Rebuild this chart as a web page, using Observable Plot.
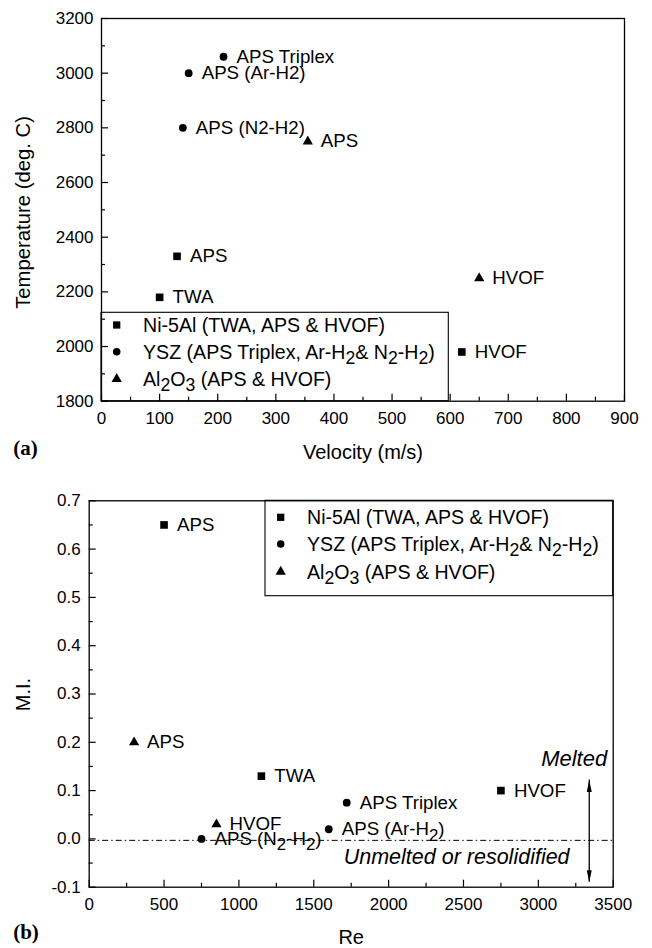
<!DOCTYPE html>
<html><head><meta charset="utf-8">
<script src="https://cdn.jsdelivr.net/npm/d3@7"></script>
<script src="https://cdn.jsdelivr.net/npm/@observablehq/plot@0.6"></script>
<style>
html,body{margin:0;padding:0;background:#fff;}
#chart{width:652px;}
#chart svg{display:block;}
</style></head><body><div id="chart"></div>
<script>
// ---------- Panel (a): Temperature vs Velocity ----------
const aNiVel = [100, 130, 620];
const aNiTemp = [2180, 2330, 1980];
const aNiLabel = ["TWA", "APS", "HVOF"];
const aYszVel = [210, 150, 140];
const aYszTemp = [3060, 3000, 2800];
const aYszLabel = ["APS Triplex", "APS (Ar-H2)", "APS (N2-H2)"];
const aAlVel = [355, 650];
const aAlTemp = [2750, 2250];
const aAlLabel = ["APS", "HVOF"];
const aXTicks = [0, 100, 200, 300, 400, 500, 600, 700, 800, 900];
const aXMinor = [50, 150, 250, 350, 450, 550, 650, 750, 850];
const aYTicks = [1800, 2000, 2200, 2400, 2600, 2800, 3000, 3200];
const aYMinor = [1900, 2100, 2300, 2500, 2700, 2900, 3100];

// ---------- Panel (b): M.I. vs Re ----------
const bNiRe = [1150, 500, 2750];
const bNiMI = [0.13, 0.65, 0.10];
const bNiLabel = ["TWA", "APS", "HVOF"];
const bYszRe = [1720, 1600, 750];
const bYszMI = [0.075, 0.02, 0.0];
const bYszLabel = ["APS Triplex", "APS (Ar-H_2)", "APS (N_2-H_2)"];
const bAlRe = [300, 850];
const bAlMI = [0.2, 0.03];
const bAlLabel = ["APS", "HVOF"];
const bXTicks = [0, 500, 1000, 1500, 2000, 2500, 3000, 3500];
const bXMinor = [250, 750, 1250, 1750, 2250, 2750, 3250];
const bYTicks = [-0.1, 0, 0.1, 0.2, 0.3, 0.4, 0.5, 0.6, 0.7];
const bYMinor = [-0.05, 0.05, 0.15, 0.25, 0.35, 0.45, 0.55, 0.65];
const bThreshold = [-0.003];
const bArrowRe = [3340];
const bArrowTop = [0.122];
const bArrowBottom = [-0.09];
const bMelted = [{x: 3460, y: 0.166, text: "Melted"}];
const bUnmelted = [{x: 1700, y: -0.038, text: "Unmelted or resolidified"}];

const legendLabels = ["Ni-5Al (TWA, APS & HVOF)", "YSZ (APS Triplex, Ar-H_2& N_2-H_2)", "Al_2O_3 (APS & HVOF)"];

const FONT = "Liberation Sans, Arial, Helvetica, sans-serif";
const SVGNS = "http://www.w3.org/2000/svg";

function rows(xs, ys, labels) { return xs.map((x, i) => ({x, y: ys[i], label: labels[i]})); }

function subify(el, fs, shift) {
  const s = el.textContent;
  if (!s.includes("_")) return;
  const parts = s.split(/(_\d)/);
  el.textContent = "";
  let shifted = false;
  for (const p of parts) {
    if (!p) continue;
    const t = document.createElementNS(SVGNS, "tspan");
    if (p.startsWith("_")) {
      t.textContent = p.slice(1);
      t.setAttribute("font-size", fs * 0.9);
      if (!shifted) { t.setAttribute("dy", shift); shifted = true; }
    } else {
      t.textContent = p;
      if (shifted) { t.setAttribute("dy", -shift); shifted = false; }
    }
    el.appendChild(t);
  }
}

const upHead = {draw(ctx, size) { const r = Math.sqrt(size / Math.PI); ctx.moveTo(0, 0); ctx.lineTo(-r * 0.5, r * 2.4); ctx.lineTo(r * 0.5, r * 2.4); ctx.closePath(); }};
const downHead = {draw(ctx, size) { const r = Math.sqrt(size / Math.PI); ctx.moveTo(0, 0); ctx.lineTo(-r * 0.5, -r * 2.4); ctx.lineTo(r * 0.5, -r * 2.4); ctx.closePath(); }};

function seriesMarks(ni, ysz, al, labelSize) {
  const all = [...ni, ...ysz, ...al];
  return [
    Plot.dot(ni, {x: "x", y: "y", symbol: "square", r: 4.3, fill: "black", stroke: "none"}),
    Plot.dot(ysz, {x: "x", y: "y", symbol: "circle", r: 3.9, fill: "black", stroke: "none"}),
    Plot.dot(al, {x: "x", y: "y", symbol: "triangle", r: 3.8, fill: "black", stroke: "none"}),
    Plot.text(all, {x: "x", y: "y", text: "label", dx: 13, textAnchor: "start", lineAnchor: "middle", fontSize: labelSize, fill: "black"})
  ];
}

function tickMarks(xMaj, xMin, yMaj, yMin, innerW, innerH) {
  return [
    Plot.ruleX(xMaj, {x: d => d, insetTop: innerH - 7, strokeWidth: 1.2}),
    Plot.ruleX(xMin, {x: d => d, insetTop: innerH - 4, strokeWidth: 1.2}),
    Plot.ruleY(yMaj, {y: d => d, insetRight: innerW - 7, strokeWidth: 1.2}),
    Plot.ruleY(yMin, {y: d => d, insetRight: innerW - 4, strokeWidth: 1.2})
  ];
}

function addLegend(svg, box, rowOffsets, fs) {
  const g = d3.select(svg).append("g").attr("class", "legend").attr("text-anchor", "start");
  g.append("rect").attr("x", box.x).attr("y", box.y).attr("width", box.w).attr("height", box.h)
    .attr("fill", "none").attr("stroke", "black").attr("stroke-width", 1.1);
  const syms = [[d3.symbolSquare, 4.1], [d3.symbolCircle, 3.8], [d3.symbolTriangle, 3.8]];
  rowOffsets.forEach((dy, i) => {
    const [type, r] = syms[i];
    g.append("path").attr("d", d3.symbol(type, Math.PI * r * r)())
      .attr("transform", `translate(${box.x + 15.7},${box.y + dy})`).attr("fill", "black");
    const t = g.append("text").attr("x", box.x + 42).attr("y", box.y + dy).attr("dy", "0.35em")
      .attr("text-anchor", "start")
      .attr("font-size", fs).attr("font-family", FONT).attr("fill", "black").text(legendLabels[i]);
    subify(t.node(), fs, 5);
  });
}

const chart = document.getElementById("chart");

// ----- Panel (a)
{
  const W = 652, H = 470, mL = 101, mT = 18, mR = 28, mB = 69.3;
  const iW = W - mL - mR, iH = H - mT - mB;
  const svg = Plot.plot({
    width: W, height: H, marginLeft: mL, marginTop: mT, marginRight: mR, marginBottom: mB,
    style: {fontFamily: FONT, fontSize: "17px", color: "black", background: "white", overflow: "visible"},
    x: {domain: [0, 900]},
    y: {domain: [1800, 3200]},
    marks: [
      ...tickMarks(aXTicks, aXMinor, aYTicks, aYMinor, iW, iH),
      Plot.frame({strokeWidth: 1.3}),
      Plot.axisX({ticks: aXTicks, tickSize: 0, tickPadding: 11, tickFormat: d => String(d), fontSize: 17, label: null}),
      Plot.axisY({ticks: aYTicks, tickSize: 0, tickPadding: 8, tickFormat: d => String(d), fontSize: 17, label: null}),
      ...seriesMarks(rows(aNiVel, aNiTemp, aNiLabel), rows(aYszVel, aYszTemp, aYszLabel), rows(aAlVel, aAlTemp, aAlLabel), 18.7),
      Plot.text(["Velocity (m/s)"], {frameAnchor: "bottom", lineAnchor: "middle", textAnchor: "middle", dy: 51.5, fontSize: 20, fill: "black"}),
      Plot.text(["Temperature (deg. C)"], {frameAnchor: "left", lineAnchor: "middle", textAnchor: "middle", rotate: -90, dx: -78, dy: 2.6, fontSize: 20.3, fill: "black"}),
      Plot.text(["(a)"], {frameAnchor: "bottom-left", lineAnchor: "middle", textAnchor: "start", dx: -88.3, dy: 47.3, fontSize: 21, fontWeight: "bold", fontFamily: "Liberation Serif, Times New Roman, serif", fill: "black"})
    ]
  });
  addLegend(svg, {x: mL, y: 312.3, w: 347.3, h: H - mB - 312.3}, [12.7, 39.4, 66.7], 19.6);
  chart.appendChild(svg);
}

// ----- Panel (b)
{
  const W = 652, H = 478, mL = 88.7, mT = 30.3, mR = 39.3, mB = 61.3;
  const iW = W - mL - mR, iH = H - mT - mB;
  const svg = Plot.plot({
    width: W, height: H, marginLeft: mL, marginTop: mT, marginRight: mR, marginBottom: mB,
    style: {fontFamily: FONT, fontSize: "17px", color: "black", background: "white", overflow: "visible"},
    x: {domain: [0, 3500]},
    y: {domain: [-0.1, 0.7]},
    marks: [
      ...tickMarks(bXTicks, bXMinor, bYTicks, bYMinor, iW, iH),
      Plot.ruleY(bThreshold, {y: d => d, strokeWidth: 1, strokeDasharray: "6,3,1.5,3"}),
      Plot.ruleX(bArrowRe, {x: d => d, y1: bArrowTop[0], y2: bArrowBottom[0], strokeWidth: 1.3}),
      Plot.dot(bArrowRe, {x: d => d, y: bArrowTop[0], symbol: upHead, r: 5, fill: "black", stroke: "none"}),
      Plot.dot(bArrowRe, {x: d => d, y: bArrowBottom[0], symbol: downHead, r: 5, fill: "black", stroke: "none"}),
      Plot.frame({strokeWidth: 1.3}),
      Plot.axisX({ticks: bXTicks, tickSize: 0, tickPadding: 11, tickFormat: d => String(d), fontSize: 17, label: null}),
      Plot.axisY({ticks: bYTicks, tickSize: 0, tickPadding: 8.5, tickFormat: d => d.toFixed(1), fontSize: 17, label: null}),
      ...seriesMarks(rows(bNiRe, bNiMI, bNiLabel), rows(bYszRe, bYszMI, bYszLabel), rows(bAlRe, bAlMI, bAlLabel), 18.7),
      Plot.text(bMelted, {x: "x", y: "y", text: "text", textAnchor: "end", lineAnchor: "middle", fontSize: 22, fontStyle: "italic", fill: "black"}),
      Plot.text(bUnmelted, {x: "x", y: "y", text: "text", textAnchor: "start", lineAnchor: "middle", fontSize: 21.5, fontStyle: "italic", fill: "black"}),
      Plot.text(["Re"], {frameAnchor: "bottom", lineAnchor: "middle", textAnchor: "middle", dy: 50, fontSize: 20, fill: "black"}),
      Plot.text(["M.I."], {frameAnchor: "left", lineAnchor: "middle", textAnchor: "middle", rotate: -90, dx: -65.5, dy: 0.5, fontSize: 20, fill: "black"}),
      Plot.text(["(b)"], {frameAnchor: "bottom-left", lineAnchor: "middle", textAnchor: "start", dx: -76, dy: 45, fontSize: 21, fontWeight: "bold", fontFamily: "Liberation Serif, Times New Roman, serif", fill: "black"})
    ]
  });
  d3.select(svg).selectAll("text").each(function() { subify(this, 18.7, 5.5); });
  addLegend(svg, {x: 265, y: mT, w: W - mR - 265, h: 595.7 - 470 - mT}, [17, 43.7, 71.4], 19.6);
  chart.appendChild(svg);
}
</script></body></html>
